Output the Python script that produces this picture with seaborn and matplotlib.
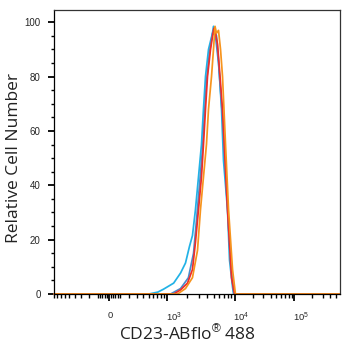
import numpy as np
import pandas as pd
import matplotlib
matplotlib.use("Agg")
import matplotlib.pyplot as plt
import matplotlib.ticker as mticker
import matplotlib.transforms as mtrans
import seaborn as sns

# ---- data (fluorescence intensity vs relative cell number) ----
x_min, x_max = -900, 580000

cyan_x = [x_min, 504, 715, 890, 1268, 1606, 1902, 2178, 2410, 2667, 2955, 3271, 3499, 3748,
          4150, 4748, 4910, 5433, 5818, 6442, 6890, 7890, 8440, 9345, 9665, x_max]
cyan_y = [0, 0, 0.7, 1.8, 4, 7.7, 11.4, 17.5, 21.5, 31, 43, 55, 68, 80,
          90, 96, 98.5, 95, 86, 68, 49, 31, 12.5, 2.5, 0, 0]

blue_x = [x_min, 1140, 1606, 2100, 2500, 2760, 3060, 3380, 3620, 3873, 4295, 4748, 5250,
          5818, 6663, 7627, 8730, 9665, 10000, x_max]
blue_y = [0, 0, 2, 6, 15, 27, 40, 53, 66, 78, 89, 96, 95, 85, 65, 38, 12, 1, 0, 0]

red_x = [x_min, 1268, 1606, 2037, 2410, 2667, 2955, 3271, 3499, 3748, 4010, 4439, 4910,
         5080, 5623, 6663, 7890, 9036, 10000, x_max]
red_y = [0, 0, 1.5, 4, 9, 19, 31, 43, 55, 68, 80, 90, 97, 98, 92, 68, 31, 6, 0, 0]

orange_x = [x_min, 1451, 1902, 2410, 2858, 3162, 3499, 3873, 4150, 4592, 4910, 5170, 5433,
            5818, 6230, 6663, 7375, 8166, 9345, 10350, x_max]
orange_y = [0, 0, 2, 6, 16, 31, 43, 55, 68, 80, 90, 98.5, 96, 97, 90, 80, 55, 31, 9, 0, 0]

series = [("cyan", cyan_x, cyan_y, "#22b2e6"),
          ("blue", blue_x, blue_y, "#4a8ccc"),
          ("red", red_x, red_y, "#ee2d2a"),
          ("orange", orange_x, orange_y, "#f7941d")]

y_ticks = [0, 20, 40, 60, 80, 100]
x_major = [0, 1e3, 1e4, 1e5]
x_major_labels = ["0", r"$10^{3}$", r"$10^{4}$", r"$10^{5}$"]

# ---- style ----
sns.set_style("ticks")
plt.rcParams["font.family"] = ["Liberation Sans", "DejaVu Sans"]
plt.rcParams["mathtext.fontset"] = "custom"
plt.rcParams["mathtext.rm"] = "Liberation Sans"
plt.rcParams["mathtext.it"] = "Liberation Sans:italic"

# biexponential-like display transform
C = 256.0
G_KN = np.arcsinh(np.array([-1e5, 0, 1e3, 1e4, 1e5, 1e7]) / C)
P_KN = np.array([108 + 28 * G_KN[0], 108, 166, 234, 294, 294 + 26.06 * (G_KN[5] - G_KN[4])])


def fwd(x):
    return np.interp(np.arcsinh(np.asarray(x, dtype=float) / C), G_KN, P_KN)


def inv(p):
    return C * np.sinh(np.interp(np.asarray(p, dtype=float), P_KN, G_KN))


fig = plt.figure(figsize=(3.5, 3.5), dpi=100)
ax = fig.add_axes([54 / 350, 56 / 350, 286 / 350, 284 / 350])
ax.set_xscale("function", functions=(fwd, inv))

for name, xs, ys, col in series:
    df = pd.DataFrame({"x": xs, "y": ys})
    sns.lineplot(data=df, x="x", y="y", ax=ax, color=col, linewidth=1.25,
                 estimator=None, sort=False, clip_on=False)

ax.set_xlim(x_min, x_max)
ax.set_ylim(0, 104.5)

# ticks
minor = ([-v for v in range(100, 1000, 100)] + [-v for v in (20, 40, 60, 80)] +
         [20, 40, 60, 80] + list(range(100, 1000, 100)) +
         [k * 1e3 for k in range(2, 10)] + [k * 1e4 for k in range(2, 10)] +
         [k * 1e5 for k in range(2, 6)])
ax.xaxis.set_major_locator(mticker.FixedLocator(x_major))
ax.xaxis.set_major_formatter(mticker.FixedFormatter(x_major_labels))
ax.xaxis.set_minor_locator(mticker.FixedLocator(minor))
ax.yaxis.set_major_locator(mticker.FixedLocator(y_ticks))
ax.yaxis.set_minor_locator(mticker.MultipleLocator(5))

ax.tick_params(axis="x", which="major", length=5, width=1.3, labelsize=6.8, pad=7, color="black")
ax.tick_params(axis="x", which="minor", length=3, width=1.0, color="black")
ax.tick_params(axis="y", which="major", length=4.5, width=1.3, labelsize=7, pad=5, color="black")
ax.tick_params(axis="y", which="minor", length=2.2, width=1.0, color="black")

for sp in ax.spines.values():
    sp.set_visible(True)
    sp.set_linewidth(0.9)
    sp.set_color("#333333")
ax.spines["bottom"].set_color("black")
ax.spines["left"].set_color("black")

ax.set_ylabel("Relative Cell Number", family=["Open Sans", "DejaVu Sans"], fontsize=12.5, color="#222222")
ax.yaxis.set_label_coords(-0.112, 0.48)
ax.set_xlabel("CD23-ABflo$^{®}$ 488", family=["Open Sans", "DejaVu Sans"], fontsize=12.5, color="#222222")
ax.xaxis.set_label_coords(0.465, -0.105)

# shift tick labels slightly right like the reference
for lab, dx in zip(ax.get_xticklabels(), [1, 7, 7, 7]):
    lab.set_transform(lab.get_transform() + mtrans.ScaledTranslation(dx / 100, 0, fig.dpi_scale_trans))

fig.savefig("out.png", dpi=100)
